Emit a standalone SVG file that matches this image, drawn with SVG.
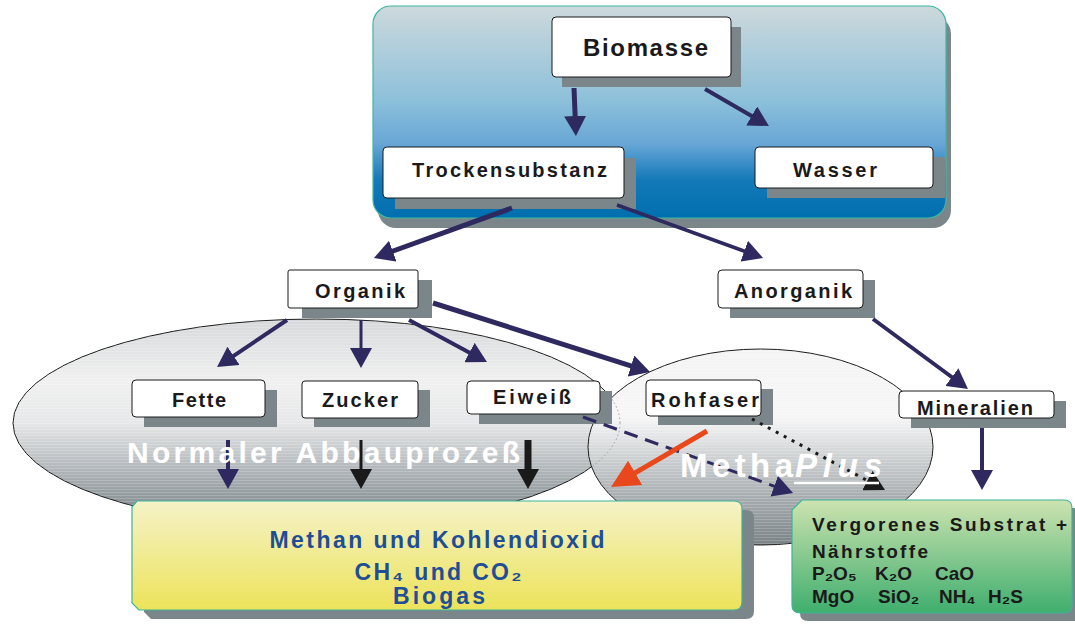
<svg xmlns="http://www.w3.org/2000/svg" width="1075" height="626" viewBox="0 0 1075 626">
  <style>
    .sh { fill: #7a868a; }
    .box { fill: #ffffff; stroke: #1a1a1a; stroke-width: 1; }
    .lbl { font-family: "Liberation Sans", Arial, sans-serif; font-weight: bold; fill: #1a1a1a; text-anchor: middle; font-size: 20px; }
    .big { font-size: 24px; }
    .nv { stroke: #2e2a60; fill: none; }
    .bk { stroke: #1a1a1a; fill: none; }
    .yt { font-family: "Liberation Sans", Arial, sans-serif; font-weight: bold; fill: #1f4e96; text-anchor: middle; font-size: 23px; }
    .gt { font-family: "Liberation Sans", Arial, sans-serif; font-weight: bold; fill: #1a1a1a; font-size: 19px; }
    .wt { font-family: "Liberation Sans", Arial, sans-serif; font-weight: bold; fill: #ffffff; }
  </style>
  <defs>
    <linearGradient id="gBlue" x1="0" y1="0" x2="0" y2="1">
      <stop offset="0" stop-color="#cdd9dc"/>
      <stop offset="0.45" stop-color="#8cc0da"/>
      <stop offset="0.65" stop-color="#68a6d6"/>
      <stop offset="0.82" stop-color="#1479b8"/>
      <stop offset="1" stop-color="#006fae"/>
    </linearGradient>
    <linearGradient id="gEll" x1="0" y1="0" x2="0" y2="1">
      <stop offset="0" stop-color="#d6d8da"/>
      <stop offset="0.3" stop-color="#f0f0f0"/>
      <stop offset="0.5" stop-color="#e6e7e8"/>
      <stop offset="0.75" stop-color="#aab0b4"/>
      <stop offset="1" stop-color="#737c80"/>
    </linearGradient>
    <linearGradient id="gEll2" x1="0" y1="0" x2="0" y2="1">
      <stop offset="0" stop-color="#f4f4f4"/>
      <stop offset="0.35" stop-color="#f6f6f6"/>
      <stop offset="0.6" stop-color="#c4c8ca"/>
      <stop offset="1" stop-color="#7a8286"/>
    </linearGradient>
    <linearGradient id="gYel" x1="0" y1="0" x2="0" y2="1">
      <stop offset="0" stop-color="#f5f2c8"/>
      <stop offset="1" stop-color="#ece35a"/>
    </linearGradient>
    <linearGradient id="gGrn" x1="0" y1="0" x2="0" y2="1">
      <stop offset="0" stop-color="#cde3b0"/>
      <stop offset="1" stop-color="#3fae6e"/>
    </linearGradient>
    <pattern id="stripes" width="4" height="3" patternUnits="userSpaceOnUse">
      <rect width="4" height="1" fill="#ffffff" fill-opacity="0.18"/>
    </pattern>
    <clipPath id="clipMetha">
      <ellipse cx="760.5" cy="447" rx="172.5" ry="98"/>
    </clipPath>
    <marker id="ahN" viewBox="0 0 20 22" markerWidth="20" markerHeight="22" refX="4" refY="11" orient="auto" markerUnits="userSpaceOnUse">
      <path d="M0,0 L20,11 L0,22 Z" fill="#2e2a60"/>
    </marker>
    <marker id="ahB" viewBox="0 0 20 22" markerWidth="20" markerHeight="22" refX="4" refY="11" orient="auto" markerUnits="userSpaceOnUse">
      <path d="M0,0 L20,11 L0,22 Z" fill="#1a1a1a"/>
    </marker>
    <marker id="ahO" viewBox="0 0 28 28" markerWidth="28" markerHeight="28" refX="6" refY="14" orient="auto" markerUnits="userSpaceOnUse">
      <path d="M0,0 L28,14 L0,28 Z" fill="#e8481c"/>
    </marker>
  </defs>

  <rect width="1075" height="626" fill="#ffffff"/>

  <!-- blue panel -->
  <g id="panel">
    <rect class="sh" x="378" y="16" width="573" height="212" rx="18"/>
    <rect x="373" y="6" width="573" height="212" rx="18" fill="url(#gBlue)" stroke="#3fb8a0" stroke-width="1.2"/>
  </g>

  <!-- process ellipses -->
  <g id="normal-process">
    <ellipse cx="316.5" cy="423" rx="303.5" ry="104" fill="url(#gEll)" stroke="#1a1a1a" stroke-width="1"/>
    <ellipse cx="316.5" cy="423" rx="303.5" ry="104" fill="url(#stripes)"/>
  </g>
  <g id="methaplus">
    <ellipse cx="760.5" cy="447" rx="172.5" ry="98" fill="url(#gEll2)" stroke="#1a1a1a" stroke-width="1"/>
    <ellipse cx="760.5" cy="447" rx="172.5" ry="98" fill="url(#stripes)"/>
    <ellipse cx="316.5" cy="423" rx="303.5" ry="104" fill="none" stroke="#999999" stroke-width="1" stroke-dasharray="1.5 2.5" clip-path="url(#clipMetha)"/>
  </g>

  <!-- nodes -->
  <g id="biomasse">
    <rect class="sh" x="562" y="27" width="179" height="60"/>
    <rect class="box" x="552" y="17" width="179" height="60" rx="4"/>
    <text class="lbl big" x="645.5" y="56" textLength="125" lengthAdjust="spacing">Biomasse</text>
  </g>
  <g id="trockensubstanz">
    <rect class="sh" x="395" y="158" width="241" height="51"/>
    <rect class="box" x="383" y="147" width="241" height="51" rx="4"/>
    <text class="lbl" x="509.5" y="177" textLength="195" lengthAdjust="spacing">Trockensubstanz</text>
  </g>
  <g id="wasser">
    <rect class="sh" x="767" y="157" width="178" height="41"/>
    <rect class="box" x="755" y="147" width="178" height="41" rx="4"/>
    <text class="lbl" x="835" y="177" textLength="84" lengthAdjust="spacing">Wasser</text>
  </g>
  <g id="organik">
    <rect class="sh" x="302" y="280" width="130" height="38"/>
    <rect class="box" x="288" y="270" width="130" height="38" rx="2"/>
    <text class="lbl" x="360" y="298" textLength="90" lengthAdjust="spacing">Organik</text>
  </g>
  <g id="anorganik">
    <rect class="sh" x="730" y="280" width="145" height="38"/>
    <rect class="box" x="718" y="270" width="145" height="38" rx="4"/>
    <text class="lbl" x="793" y="298" textLength="118" lengthAdjust="spacing">Anorganik</text>
  </g>
  <g id="fette">
    <rect class="sh" x="144" y="390" width="133" height="37"/>
    <rect class="box" x="132" y="380" width="133" height="37" rx="4"/>
    <text class="lbl" x="199" y="407" textLength="54" lengthAdjust="spacing">Fette</text>
  </g>
  <g id="zucker">
    <rect class="sh" x="314" y="390" width="116" height="37"/>
    <rect class="box" x="302" y="381" width="116" height="37" rx="3"/>
    <text class="lbl" x="360" y="407" textLength="76" lengthAdjust="spacing">Zucker</text>
  </g>
  <g id="eiweiss">
    <rect class="sh" x="479" y="391" width="133" height="33"/>
    <rect class="box" x="467" y="381" width="133" height="33" rx="4"/>
    <text class="lbl" x="532" y="404" textLength="78" lengthAdjust="spacing">Eiweiß</text>
  </g>
  <g id="rohfaser">
    <rect class="sh" x="658" y="389" width="115" height="36"/>
    <rect class="box" x="646" y="380" width="115" height="36" rx="4"/>
    <text class="lbl" x="705" y="407" textLength="108" lengthAdjust="spacing">Rohfaser</text>
  </g>
  <g id="mineralien">
    <rect class="sh" x="911" y="401" width="155" height="27"/>
    <rect class="box" x="899" y="391" width="155" height="27" rx="4"/>
    <text class="lbl" x="975" y="415" textLength="116" lengthAdjust="spacing">Mineralien</text>
  </g>

  <g id="biogas">
    <path class="sh" d="M149,510 H746 Q754,510 754,518 V611 Q754,619 746,619 H151 L144,612 V516 Z"/>
    <path d="M137,501 H734 Q742,501 742,509 V602 Q742,610 734,610 H139 L132,603 V507 Z" fill="url(#gYel)" stroke="#3db39a" stroke-width="1.2"/>
    <text class="yt" x="437" y="548" textLength="335" lengthAdjust="spacing">Methan und Kohlendioxid</text>
    <text class="yt" x="438" y="580" textLength="167" lengthAdjust="spacing">CH₄ und CO₂</text>
    <text class="yt" x="439" y="604" textLength="92" lengthAdjust="spacing">Biogas</text>
  </g>

  <g id="substrat">
    <path class="sh" d="M810,508 H1075 V621 H808 Q800,621 800,613 V517 Z"/>
    <path d="M802,500 H1064 Q1072,500 1072,508 V605 Q1072,613 1064,613 H800 Q792,613 792,605 V510 Z" fill="url(#gGrn)" stroke="#3db39a" stroke-width="1.2"/>
    <text class="gt" x="812" y="531" textLength="255" lengthAdjust="spacing">Vergorenes Substrat +</text>
    <text class="gt" x="812" y="558" textLength="116" lengthAdjust="spacing">Nährstoffe</text>
    <text class="gt" y="580"><tspan x="812">P₂O₅</tspan><tspan x="875">K₂O</tspan><tspan x="935">CaO</tspan></text>
    <text class="gt" y="603"><tspan x="812">MgO</tspan><tspan x="878">SiO₂</tspan><tspan x="939">NH₄</tspan><tspan x="988">H₂S</tspan></text>
  </g>

  <!-- connectors -->
  <g id="connectors">
    <line class="nv" x1="574" y1="88" x2="575.3" y2="120" stroke-width="5" marker-end="url(#ahN)"/>
    <line class="nv" x1="705" y1="89" x2="755.1" y2="118" stroke-width="4" marker-end="url(#ahN)"/>
    <line class="nv" x1="512" y1="208" x2="389" y2="252.5" stroke-width="5" marker-end="url(#ahN)"/>
    <line class="nv" x1="617" y1="205" x2="748" y2="252.5" stroke-width="3.5" marker-end="url(#ahN)"/>
    <line class="nv" x1="287" y1="320" x2="230.3" y2="358.1" stroke-width="4" marker-end="url(#ahN)"/>
    <line class="nv" x1="361" y1="320" x2="361" y2="352" stroke-width="3" marker-end="url(#ahN)"/>
    <line class="nv" x1="409" y1="320" x2="472.9" y2="354.4" stroke-width="4" marker-end="url(#ahN)"/>
    <line class="nv" x1="433" y1="303" x2="634.8" y2="367.2" stroke-width="5" marker-end="url(#ahN)"/>
    <line class="nv" x1="873" y1="319" x2="955.1" y2="379.5" stroke-width="4" marker-end="url(#ahN)"/>
    <line class="nv" x1="228" y1="440" x2="228" y2="473" stroke-width="4" marker-end="url(#ahN)"/>
    <line class="bk" x1="361" y1="440" x2="361" y2="473" stroke-width="3" marker-end="url(#ahB)"/>
    <line class="bk" x1="528" y1="440" x2="528" y2="473" stroke-width="7" marker-end="url(#ahB)"/>
    <line class="nv" x1="982" y1="428" x2="982" y2="474" stroke-width="4" marker-end="url(#ahN)"/>
    <line class="nv" x1="583" y1="417" x2="778" y2="487.6" stroke-width="3" stroke-dasharray="14 8" marker-end="url(#ahN)"/>
    <line class="bk" x1="752" y1="419" x2="870.9" y2="482.5" stroke-width="3" stroke-dasharray="3 6" marker-end="url(#ahB)"/>
    <line x1="707" y1="431" x2="630" y2="475.9" stroke="#e8481c" stroke-width="5" marker-end="url(#ahO)"/>
  </g>

  <!-- process labels -->
  <g id="normal-process-label">
    <text class="wt" x="127" y="463" font-size="30" textLength="393" lengthAdjust="spacing">Normaler Abbauprozeß</text>
  </g>
  <g id="methaplus-label">
    <text class="wt" x="680" y="477" font-size="33" textLength="113" lengthAdjust="spacing">Metha</text>
    <text class="wt" x="795" y="477" font-size="33" font-style="italic" textLength="87" lengthAdjust="spacing">Plus</text>
    <line x1="794" y1="483" x2="879" y2="483" stroke="#ffffff" stroke-width="2.5"/>
  </g>
</svg>
